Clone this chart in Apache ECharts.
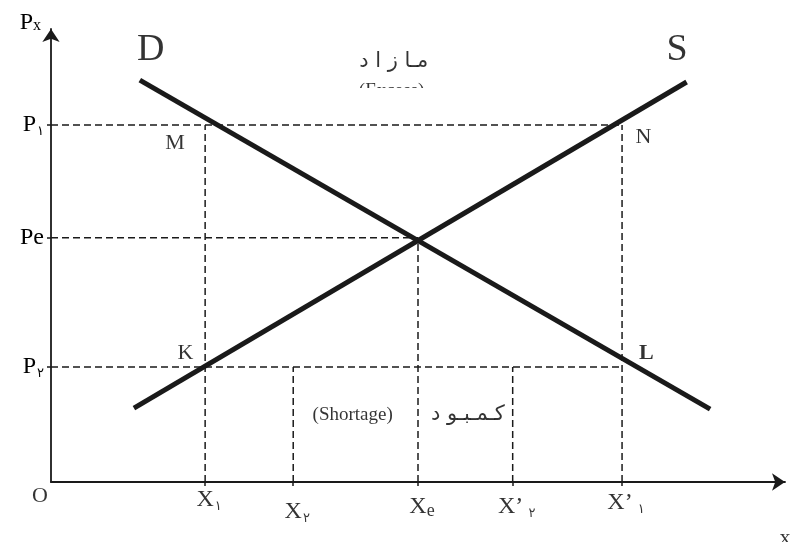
<!DOCTYPE html>
<html>
<head>
<meta charset="utf-8">
<script src="https://cdn.jsdelivr.net/npm/echarts@6/dist/echarts.min.js"></script>
<style>
  html, body { margin: 0; background: #fff; }
  #chart { width: 791px; height: 542px; }
</style>
</head>
<body>
<div id="chart"></div>
<script>
// quantities marked on the x axis
var xNames = ['X1', 'X2', 'Xe', "X'2", "X'1"];
var xValues = [21.0, 33.0, 50.0, 62.9, 77.8];
var xLabels = ['{m|X}{s|۱}', '{m|X}{s|۲}', '{m|X}{e|e}', '{m|X’}{s| ۲}', '{m|X’}{s| ۱}'];
// prices marked on the y axis
var pNames = ['P1', 'Pe', 'P2'];
var pValues = [78.8, 53.9, 25.4];
var pLabels = ['{m|P}{s|۱}', '{m|Pe}', '{m|P}{s|۲}'];
// demand and supply end points
var demandLine = [[12.1, 88.7], [89.8, 16.1]];
var supplyLine = [[11.3, 16.3], [86.6, 88.3]];
// dashed guides: [price index, x index where it stops]
var guideH = [[0, 4], [1, 2], [2, 4]];
// dashed guides: [x index, price index where it stops]
var guideV = [[0, 0], [1, 2], [2, 1], [3, 2], [4, 0]];
// text on the plot
var noteText = ['D', 'S', 'مـا ز ا د', '(Excess)', 'M', 'N', 'K', 'L', '(Shortage)', 'کـمـبـو د', 'O', 'x'];
var notePos = [[13.6, 95.4], [85.3, 95.4], [46.7, 92.9], [46.4, 86.2], [16.9, 74.8], [80.7, 76.2],
               [18.3, 28.5], [81.1, 28.5], [41.1, 14.8], [56.8, 14.8], [-1.5, -3.1], [100, -12.3]];
var noteStyle = ['big', 'big', 'fa', 'en', 'lt', 'lt', 'lt', 'ltb', 'en', 'fa', 'lt', 'lt'];

var ink = '#1a1a1a';
var txt = '#000';
var serif = 'Liberation Serif, Times New Roman, serif';

var richTick = {
  m: { fontFamily: serif, fontSize: 24, color: txt, lineHeight: 26 },
  s: { fontFamily: 'DejaVu Sans', fontSize: 13, color: txt, lineHeight: 26, verticalAlign: 'bottom', padding: [11, 0, 0, 1] },
  e: { fontFamily: serif, fontSize: 18, color: txt, lineHeight: 26, verticalAlign: 'bottom', padding: [8, 0, 0, 0] }
};

var noteRich = {
  big: { fontFamily: serif, fontSize: 38, color: txt },
  fa: { fontFamily: 'DejaVu Sans', fontSize: 21, color: txt },
  en: { fontFamily: serif, fontSize: 19, color: txt },
  lt: { fontFamily: serif, fontSize: 22, color: txt },
  ltb: { fontFamily: serif, fontSize: 22, fontWeight: 'bold', color: txt }
};

var series = [];

guideH.forEach(function (g) {
  series.push({
    type: 'line', symbol: 'none', silent: true, z: 1,
    lineStyle: { color: ink, width: 1.5, type: [7, 4] },
    data: [[0, pValues[g[0]]], [xValues[g[1]], pValues[g[0]]]]
  });
});
guideV.forEach(function (g) {
  series.push({
    type: 'line', symbol: 'none', silent: true, z: 1,
    lineStyle: { color: ink, width: 1.5, type: [7, 4] },
    data: [[xValues[g[0]], 0], [xValues[g[0]], pValues[g[1]]]]
  });
});

series.push({
  name: 'Demand', type: 'line', symbol: 'none', z: 3,
  lineStyle: { color: ink, width: 5, cap: 'butt' },
  data: demandLine
});
series.push({
  name: 'Supply', type: 'line', symbol: 'none', z: 3,
  lineStyle: { color: ink, width: 5, cap: 'butt' },
  data: supplyLine
});

// x tick labels (staggered like the original)
var xDrop = [18, 30, 25, 25, 21];
series.push({
  type: 'scatter', symbolSize: 0, clip: false, silent: true,
  data: xValues.map(function (v, i) {
    return {
      value: [v, 0],
      label: {
        show: true, position: 'inside', offset: [4, xDrop[i]],
        formatter: xLabels[i], rich: richTick
      }
    };
  })
});

// notes
series.push({
  type: 'scatter', symbolSize: 0, clip: false, silent: true, z: 5,
  data: notePos.map(function (p, i) {
    return {
      value: p,
      label: {
        show: true, position: 'inside',
        formatter: '{' + noteStyle[i] + '|' + noteText[i] + '}', rich: noteRich
      }
    };
  })
});

var chart = echarts.init(document.getElementById('chart'));
chart.setOption({
  animation: false,
  backgroundColor: '#fff',
  grid: { left: 51, right: 6, top: 29, bottom: 60 },
  xAxis: {
    type: 'value', min: 0, max: 100,
    splitLine: { show: false },
    axisLine: { onZero: false, symbol: ['none', 'arrow'], symbolSize: [13, 13], lineStyle: { color: ink, width: 1.8 } },
    axisTick: { show: true, customValues: xValues, length: 4, lineStyle: { color: ink, width: 1.5 } },
    axisLabel: { show: false }
  },
  yAxis: {
    type: 'value', min: 0, max: 100,
    splitLine: { show: false },
    name: '{m|P}{x|x}',
    nameLocation: 'end', nameGap: 6,
    nameTextStyle: {
      align: 'right', verticalAlign: 'middle', padding: [0, 10, 0, 0],
      rich: {
        m: { fontFamily: serif, fontSize: 24, color: txt },
        x: { fontFamily: serif, fontSize: 16, color: txt, padding: [6, 0, 0, 0] }
      }
    },
    axisLine: { onZero: false, symbol: ['none', 'arrow'], symbolSize: [13, 13], lineStyle: { color: ink, width: 1.8 } },
    axisTick: { show: true, customValues: pValues, length: 4, lineStyle: { color: ink, width: 1.5 } },
    axisLabel: {
      show: true, customValues: pValues, margin: 7,
      formatter: function (v) { return pLabels[pValues.indexOf(v)]; },
      rich: richTick
    }
  },
  graphic: [
    // the original cuts the "(Excess)" line in half
    { type: 'rect', z: 100, shape: { x: 330, y: 88, width: 130, height: 14 }, style: { fill: '#fff' } }
  ],
  series: series
});
</script>
</body>
</html>
